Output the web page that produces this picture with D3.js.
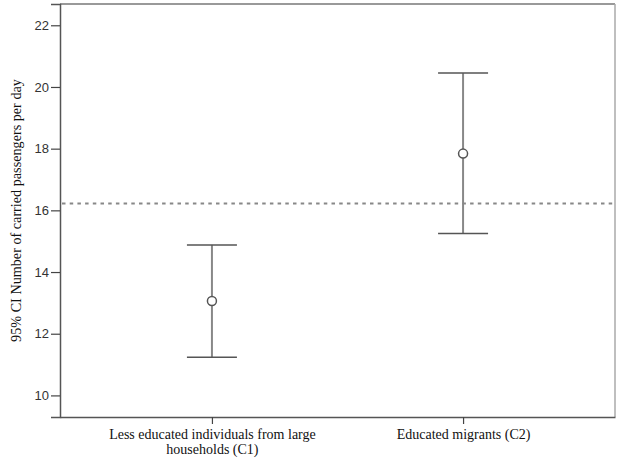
<!DOCTYPE html>
<html>
<head>
<meta charset="utf-8">
<script src="https://cdn.jsdelivr.net/npm/d3@7"></script>
<style>
  body { margin: 0; background: #fff; }
</style>
</head>
<body>
<div id="chart"></div>
<script>
const categories = [["Less educated individuals from large", "households (C1)"], ["Educated migrants (C2)"]];
const means = [13.06, 17.84];
const lower = [11.24, 15.25];
const upper = [14.88, 20.45];
const refLine = 16.22;
const yTicks = [10, 12, 14, 16, 18, 20, 22];

const width = 617;
const height = 461;
const margin = {top: 4, right: 2, bottom: 44, left: 60};
const serif = "'Liberation Serif', 'Times New Roman', Times, serif";

const svg = d3.select("#chart")
              .append("svg")
              .attr("width", width)
              .attr("height", height)

const x = d3.scalePoint()
            .domain(d3.range(categories.length))
            .range([margin.left, width - margin.right])
            .padding(0.605)

const y = d3.scaleLinear()
            .domain([9.3, 22.69])
            .range([height - margin.bottom, margin.top])

// frame
svg.append("line")
   .attr("x1", margin.left).attr("x2", width - margin.right)
   .attr("y1", margin.top).attr("y2", margin.top)
   .attr("stroke", "#777").attr("stroke-width", 1.5)
svg.append("line")
   .attr("x1", width - margin.right).attr("x2", width - margin.right)
   .attr("y1", margin.top).attr("y2", height - margin.bottom)
   .attr("stroke", "#aaa").attr("stroke-width", 1.5)

const yAxis = d3.axisLeft(y).tickValues(yTicks).tickSize(9).tickPadding(2)
svg.append("g")
   .attr("transform", `translate(${margin.left},0)`)
   .call(yAxis)
   .call(g => g.select(".domain").attr("stroke", "#555").attr("stroke-width", 1.5))
   .call(g => g.selectAll(".tick line").attr("stroke", "#444").attr("stroke-width", 1.2))
   .call(g => g.selectAll(".tick text")
               .attr("fill", "#333")
               .attr("font-family", "'Liberation Sans', Arial, sans-serif")
               .attr("font-size", 13))

const xAxis = d3.axisBottom(x).tickSize(7).tickSizeOuter(0).tickFormat("")
const xg = svg.append("g")
   .attr("transform", `translate(0,${height - margin.bottom})`)
   .call(xAxis)
   .call(g => g.select(".domain").attr("stroke", "#555").attr("stroke-width", 1.5))
   .call(g => g.selectAll(".tick line").attr("stroke", "#444").attr("stroke-width", 1.2))

xg.selectAll(".tick")
  .append("text")
  .attr("fill", "#111")
  .attr("text-anchor", "middle")
  .attr("font-family", serif)
  .attr("font-size", 14)
  .selectAll("tspan")
  .data(d => categories[d])
  .enter()
  .append("tspan")
  .attr("font-family", serif)
  .attr("x", 0)
  .attr("y", (d, i) => 22 + i * 15)
  .text(d => d)

// y label
svg.append("text")
   .attr("transform", `translate(21,${(margin.top + height - margin.bottom) / 2}) rotate(-90)`)
   .attr("text-anchor", "middle")
   .attr("fill", "#111")
   .attr("font-family", serif)
   .attr("font-size", 14.2)
   .text("95% CI Number of carried passengers per day")

// reference line
svg.append("line")
   .attr("x1", margin.left + 2).attr("x2", width - margin.right - 2)
   .attr("y1", y(refLine)).attr("y2", y(refLine))
   .attr("stroke", "#888")
   .attr("stroke-width", 2)
   .attr("stroke-dasharray", "3.5,4.2")

// error bars
const bars = svg.append("g")
                .selectAll("g")
                .data(means.map((m, i) => ({i, m, lo: lower[i], hi: upper[i]})))
                .enter()
                .append("g")

bars.append("line")
    .attr("x1", d => x(d.i)).attr("x2", d => x(d.i))
    .attr("y1", d => y(d.lo)).attr("y2", d => y(d.hi))
    .attr("stroke", "#888").attr("stroke-width", 2)

bars.selectAll(".cap")
    .data(d => [d.lo, d.hi].map(v => ({i: d.i, v})))
    .enter()
    .append("line")
    .attr("x1", d => x(d.i) - 25).attr("x2", d => x(d.i) + 25)
    .attr("y1", d => y(d.v)).attr("y2", d => y(d.v))
    .attr("stroke", "#555").attr("stroke-width", 1.5)

bars.append("circle")
    .attr("cx", d => x(d.i))
    .attr("cy", d => y(d.m))
    .attr("r", 4.5)
    .attr("fill", "#fff")
    .attr("stroke", "#555")
    .attr("stroke-width", 1.5)
</script>
</body>
</html>
